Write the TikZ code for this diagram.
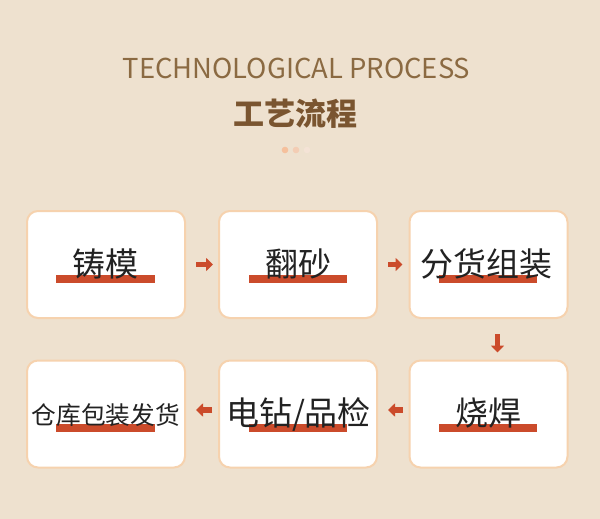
\documentclass[tikz,border=0pt]{standalone}
\usepackage{fontspec}
\newfontfamily\cjk{Noto Sans CJK SC}
\usetikzlibrary{arrows.meta}
\definecolor{bg}{HTML}{EEE1CF}
\definecolor{boxline}{HTML}{F6D2AE}
\definecolor{bar}{HTML}{CB4B2B}
\definecolor{titlec}{HTML}{8B6A42}
\definecolor{headc}{HTML}{7A5530}
\definecolor{txt}{HTML}{222222}
\definecolor{dotA}{HTML}{F5C09C}
\definecolor{dotB}{HTML}{F3CDB4}
\definecolor{dotC}{HTML}{F4E3D6}
\tikzset{
  stepbox/.style={draw=boxline, line width=2pt, fill=white, rounded corners=11pt,
    minimum width=158pt, minimum height=107pt, inner sep=0pt},
  lbl/.style={font=\cjk\fontsize{33}{33}\selectfont, text=txt, anchor=base, inner sep=0pt},
  lblsmall/.style={font=\cjk\fontsize{24.7}{25}\selectfont, text=txt, anchor=base, inner sep=0pt},
  redbar/.style={fill=bar, draw=none},
  flow/.style={draw=bar, line width=5.5pt, -{Triangle[length=7pt,width=13pt]}},
}
\begin{document}
\begin{tikzpicture}[x=1pt,y=-1pt]
\fill[bg] (0,0) rectangle (600,519);
\useasboundingbox (0,0) rectangle (600,519);
% title
\node[font=\cjk\fontsize{27.4}{29}\selectfont, text=titlec, anchor=base, inner sep=0pt] (title) at (296.5,79) {TECHNOLOGICAL PROCESS};
\node[font=\cjk\bfseries\fontsize{31}{32}\selectfont, text=headc, anchor=base, inner sep=0pt] (head) at (295.5,125) {工艺流程};
\fill[dotA] (285,150) circle (3.3);
\fill[dotB] (296,150) circle (3.3);
\fill[dotC] (307,150) circle (3.3);
% boxes
\node[stepbox] (b1) at (106,264.5) {};
\node[stepbox] (b2) at (298,264.5) {};
\node[stepbox] (b3) at (488.5,264.5) {};
\node[stepbox] (b4) at (106,414) {};
\node[stepbox] (b5) at (298,414) {};
\node[stepbox] (b6) at (488.5,414) {};
% bars
\fill[redbar] (56,275) rectangle (155,283);
\fill[redbar] (249,275) rectangle (347,283);
\fill[redbar] (439,275) rectangle (537,283);
\fill[redbar] (56,424) rectangle (155,432);
\fill[redbar] (249,424) rectangle (347,432);
\fill[redbar] (439,424) rectangle (537,432);
% labels
\node[lbl] (t1) at (105,276) {铸模};
\node[lbl] (t2) at (298,276) {翻砂};
\node[lbl] (t3) at (486.5,276) {分货组装};
\node[lbl] (t6) at (488,425) {烧焊};
\node[lbl] (t5) at (298.5,425) {电钻/品检};
\node[lblsmall] (t4) at (106,424.5) {仓库包装发货};
% arrows
\draw[flow, shorten <=10pt, shorten >=5pt] (b1) -- (b2);
\draw[flow, shorten <=10pt, shorten >=6pt] (b2) -- (b3);
\draw[flow, shorten <=15pt, shorten >=7pt] ([xshift=9pt]b3.south) -- ([xshift=9pt]b6.north);
\draw[flow, shorten <=6pt, shorten >=10pt] ([yshift=4pt]b6.west) -- ([yshift=4pt]b5.east);
\draw[flow, shorten <=6pt, shorten >=10pt] ([yshift=4pt]b5.west) -- ([yshift=4pt]b4.east);
\end{tikzpicture}
\end{document}
